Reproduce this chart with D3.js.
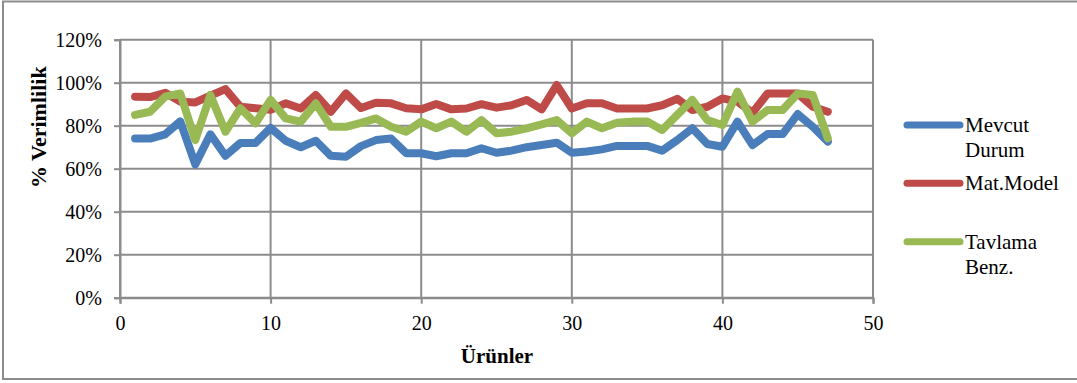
<!DOCTYPE html>
<html><head><meta charset="utf-8">
<script src="https://cdn.jsdelivr.net/npm/d3@7"></script>
<style>body{margin:0;background:#fff}svg{display:block}
svg text{font-family:"Liberation Serif","Times New Roman",Tinos,"DejaVu Serif",serif !important;}</style>
</head><body><svg id="c" width="1077" height="383"></svg>
<script>
const seriesNames = ["Mevcut Durum", "Mat.Model", "Tavlama Benz."];
const products = d3.range(1, 48);
const mevcut = [74,74,76,82,62,76,66,72,72,79,73,70,73,66,65.6,70.5,73.3,74,67.2,67.2,65.8,67.2,67.2,69.5,67.4,68.4,70,71,72.1,67.4,68,69,70.6,70.6,70.6,68.4,73.3,78.8,71.5,70.2,81.9,71,76.1,76.1,85.4,79.5,72.6];
const matModel = [93.5,93.3,95.3,91.2,90.8,94,97,88.8,88.1,87.4,90.4,88,94.3,86.5,95,88.2,90.7,90.4,88.1,87.6,90.1,87.6,88,90,88.4,89.5,92,87.6,98.9,88,90.4,90.4,88,88,88,89.5,92.5,87.3,88.8,92.7,91.2,86,95,95,95,88.8,86.5];
const tavlama = [85,86.5,93.5,95,73.3,94.3,77.2,88.1,81.1,92,83.4,81.9,90.4,79.5,79.5,81.3,83.4,79.5,77.2,81.9,78.8,81.9,77.2,82.6,76.5,77.2,78.8,80.6,82.6,76.5,81.9,78.8,81.4,81.9,81.9,78,85,92,82.6,80.3,95.8,81.9,87.3,87.3,95,94.3,74.1];
const xTicks = [0,10,20,30,40,50];
const yTicks = [0,20,40,60,80,100,120];
const colors = ["#4a7ebb","#be4b48","#98b954"];

const svg = d3.select("#c");
svg.append("rect").attr("x",3).attr("y",1.5).attr("width",1080).attr("height",377.5)
  .attr("fill","none").attr("stroke","#8c8c8c").attr("stroke-width",2);

const x = d3.scaleLinear().domain([0,50]).range([120,873]);
const y = d3.scaleLinear().domain([0,120]).range([297.7,39.7]);
const grid = "#8c8c8c";

svg.append("g").selectAll("line").data(yTicks).join("line")
  .attr("x1",x(0)).attr("x2",x(50)).attr("y1",d=>y(d)).attr("y2",d=>y(d))
  .attr("stroke",grid).attr("stroke-width",2);
svg.append("g").selectAll("line").data(xTicks).join("line")
  .attr("x1",d=>x(d)).attr("x2",d=>x(d)).attr("y1",y(0)).attr("y2",y(120))
  .attr("stroke",grid).attr("stroke-width",2);

const yAxis = svg.append("g").attr("transform",`translate(${x(0)},0)`)
  .call(d3.axisLeft(y).tickValues(yTicks).tickFormat(d=>d+"%").tickSize(6).tickPadding(12));
const xAxis = svg.append("g").attr("transform",`translate(0,${y(0)})`)
  .call(d3.axisBottom(x).tickValues(xTicks).tickSize(6).tickPadding(12));
[yAxis,xAxis].forEach(a=>{
  a.attr("font-family",null);
  a.select(".domain").attr("stroke",grid).attr("stroke-width",2);
  a.selectAll(".tick line").attr("stroke",grid).attr("stroke-width",2);
  a.selectAll("text").attr("font-size",20).attr("fill","#000");
});

const all = [mevcut, matModel, tavlama];
const line = d3.line().x((d,i)=>x(products[i])).y(d=>y(d));
all.forEach((s,k)=>{
  svg.append("path").datum(s).attr("d",line).attr("fill","none")
    .attr("stroke",colors[k]).attr("stroke-width",8)
    .attr("stroke-linejoin","round").attr("stroke-linecap","round");
});

svg.append("text").attr("x",497).attr("y",363).attr("text-anchor","middle")
  .attr("font-size",21).attr("font-weight","bold").text("Ürünler");
svg.append("text").attr("transform","translate(46,188) rotate(-90)").attr("text-anchor","start")
  .attr("font-size",22).attr("font-weight","bold").text("% Verimlilik");

const legY = [125, 183.3, 241.7];
const legLines = [["Mevcut","Durum"],["Mat.Model"],["Tavlama","Benz."]];
legLines.forEach((lines,k)=>{
  svg.append("line").attr("x1",907).attr("x2",960).attr("y1",legY[k]).attr("y2",legY[k])
    .attr("stroke",colors[k]).attr("stroke-width",7).attr("stroke-linecap","round");
  const t = svg.append("text").attr("x",965).attr("y",legY[k]+7)
    .attr("font-size",21).attr("fill","#000");
  lines.forEach((l,j)=>t.append("tspan").attr("x",965).attr("dy",j?25:0).text(l));
});
</script></body></html>
